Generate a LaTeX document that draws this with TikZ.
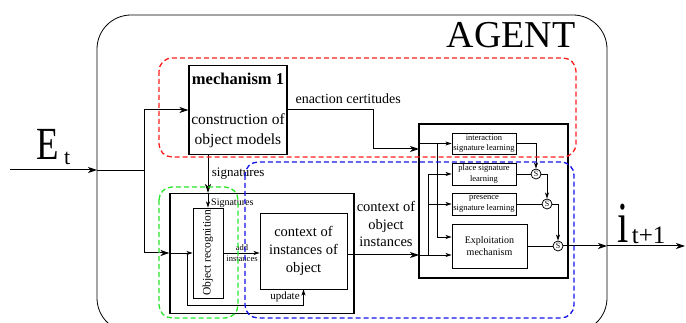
\documentclass[tikz,border=0pt]{standalone}
\usepackage{fontspec}
\setmainfont{Liberation Serif}
\usetikzlibrary{arrows.meta,positioning,calc}
\definecolor{mechred}{RGB}{255,30,30}
\definecolor{recgreen}{RGB}{40,230,40}
\definecolor{ctxblue}{RGB}{20,20,235}
\newcommand{\txtsize}[2]{\fontsize{#1}{#2}\selectfont}

\begin{document}
\begin{tikzpicture}[x=1pt, y=-1pt,
    box/.style={rectangle, draw, line width=1.1pt, inner sep=0pt, align=center},
    learnbox/.style={rectangle, draw, line width=0.9pt, inner sep=0pt, align=center, font=\txtsize{8.5}{10.5}},
    sumnode/.style={circle, draw, line width=0.8pt, inner sep=0pt, minimum size=10pt, font=\txtsize{8}{8}},
    bigarrow/.style={-{Stealth[length=9pt,width=6pt,inset=2.5pt]}, line width=1pt},
    arrow/.style={-{Stealth[length=6pt,width=4pt,inset=1.5pt]}, line width=0.9pt},
    link/.style={line width=0.9pt},
    zone/.style={dash pattern=on 5pt off 3pt, line width=1.3pt, rounded corners=13pt}
]
    \useasboundingbox (0,0) rectangle (686,323);

    % Agent frame
    \draw[line width=0.8pt, rounded corners=34pt] (97,15) rectangle (607,332);
    \node[anchor=base east, font=\txtsize{38}{40}] (agent) at (579,48) {AGENT};

    % Mechanism 1
    \node[box, minimum width=98pt, minimum height=89pt, font=\txtsize{15.5}{20}] (mech) at (238,110)
        {{\bfseries\txtsize{16.5}{20}mechanism 1}\\[20pt]construction of\\object models};

    % Recognition part
    \node[box, minimum width=184pt, minimum height=120pt] (lowbox) at (262,253.5) {};
    \node[box, line width=0.9pt, minimum width=30pt, minimum height=90pt, font=\txtsize{11.5}{12}] (objrec) at (208,253)
        {\rotatebox{90}{Object recognition}};
    \node[box, line width=0.9pt, minimum width=87pt, minimum height=76pt, font=\txtsize{14.5}{18}] (ctxinst) at (303.5,251)
        {context of\\instances of\\object};

    % Learning part
    \node[box, minimum width=149pt, minimum height=154pt] (learn) at (493.5,201) {};
    \node[learnbox, minimum width=64pt, minimum height=21pt] (intsig) at (484,143.5) {interaction\\signature learning};
    \node[learnbox, minimum width=64pt, minimum height=22pt] (placesig) at (484,174) {place signature\\learning};
    \node[learnbox, minimum width=64pt, minimum height=22pt] (presig) at (484,204) {presence\\signature learning};
    \node[learnbox, minimum width=75pt, minimum height=44pt, font=\txtsize{10}{12.5}] (exploit) at (489.5,246) {Exploitation\\mechanism};
    \node[sumnode] (s1) at (536,174) {S};
    \node[sumnode] (s2) at (547,204) {S};
    \node[sumnode] (s3) at (558,246) {S};

    % Input and output
    \node[anchor=base west] (et) at (33,160)
        {\scalebox{0.8}[1]{\txtsize{46}{46}E}\kern5pt\raisebox{-5pt}{\txtsize{22}{22}t}};
    \node[anchor=base west] (iout) at (614,243)
        {\scalebox{0.7}[1]{\txtsize{58}{58}i}\kern3pt\raisebox{-1pt}{\txtsize{25}{25}t+1}};

    \coordinate (instart) at (10,170);
    \coordinate (inport) at (97,170);
    \coordinate (split) at (144,170);
    \coordinate (loopin) at (187,253);
    \coordinate (enbend) at (373,149);
    \coordinate (enin) at (419,149);
    \coordinate (ctxin) at (419,255);
    \coordinate (tapA) at (437,143.5);
    \coordinate (tapB) at (428,255);
    \coordinate (outport) at (607,246);
    \coordinate (outend) at (685,246);

    % Arrows
    \draw[bigarrow] (instart) -- (inport);
    \draw[link] (inport) -- (split);
    \draw[bigarrow] (split) |- (mech.west);
    \draw[bigarrow] (split) |- (lowbox.west |- objrec.west);
    \draw[arrow] (lowbox.west |- objrec.west) -- (objrec.west);

    \draw[bigarrow] (mech.east) -| (enbend) -- (enin);
    \node[anchor=base west, font=\txtsize{14}{16}] (enlbl) at (292,104) {enaction certitudes};

    \draw[bigarrow] (mech.south -| objrec.north) -- (lowbox.north -| objrec.north)
        node[midway, right, font=\txtsize{13}{14}] {signatures};
    \draw[arrow] (lowbox.north -| objrec.north) -- (objrec.north);
    \node[anchor=west, inner sep=0pt, font=\txtsize{10}{11}] (siglbl) at (211,203) {Signatures};

    \draw[arrow] (objrec.east) -- (objrec.east -| ctxinst.west);
    \node[align=center, inner sep=0pt, font=\txtsize{8.5}{11}] (addlbl) at (242,253) {add\\instances};
    \draw[arrow] (loopin) |- ($(ctxinst.south)+(0,16)$) -- (ctxinst.south);
    \node[font=\txtsize{11}{12}] (updlbl) at (285,297) {update};

    \draw[bigarrow] (ctxinst.east |- ctxin) -- (ctxin);
    \node[align=center, font=\txtsize{14.5}{17.5}] (ctxlbl) at (386,224) {context of\\object\\instances};

    \draw[arrow] (learn.west |- intsig.west) -- (intsig.west);
    \draw[arrow] (tapA) |- ($(exploit.west)+(0,-9)$);
    \draw[arrow] (ctxin) -- ($(exploit.west)+(0,9)$);
    \draw[arrow] (tapB) |- (placesig.west);
    \draw[arrow] (tapB |- presig.west) -- (presig.west);

    \draw[arrow] (intsig.east) -| (s1.north);
    \draw[link] (placesig.east) -- (s1.west);
    \draw[arrow] (s1.east) -| (s2.north);
    \draw[link] (presig.east) -- (s2.west);
    \draw[arrow] (s2.east) -| (s3.north);
    \draw[link] (exploit.east) -- (s3.west);
    \draw[bigarrow] (s3.east) -- (outport);
    \draw[bigarrow] (outport) -- (outend);

    % Dashed groupings
    \draw[zone, mechred] (159,58) rectangle (576,157);
    \draw[zone, recgreen] (159,187) rectangle (238,318);
    \draw[zone, ctxblue] (245,162) rectangle (574,318);
\end{tikzpicture}
\end{document}
